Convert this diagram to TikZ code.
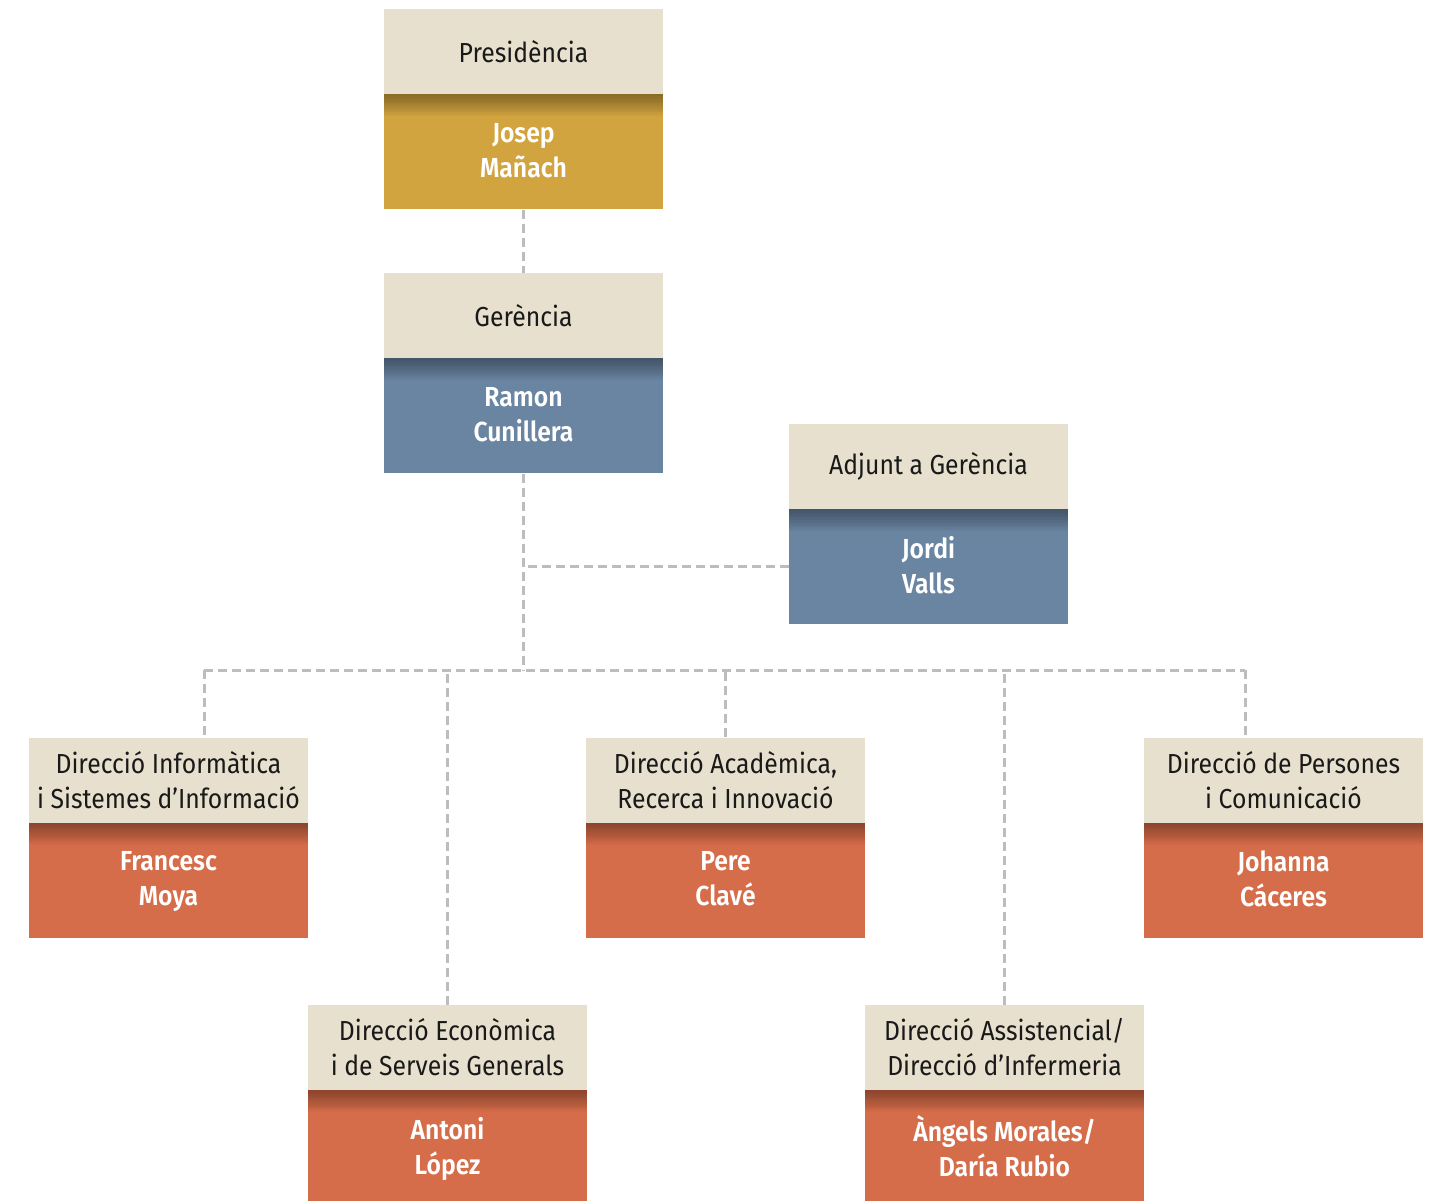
\documentclass[tikz,border=0pt]{standalone}
\usepackage{fontspec}
\setmainfont{Fira Sans}[FakeStretch=0.9, BoldFont={Fira Sans SemiBold}, BoldFeatures={FakeStretch=0.9}]
\usetikzlibrary{positioning,calc}

\definecolor{roleBG}{HTML}{E8E0CE}
\definecolor{presGold}{HTML}{D1A43F}
\definecolor{gerBlue}{HTML}{6A85A2}
\definecolor{dirOrange}{HTML}{D66D4A}
\definecolor{linkGray}{HTML}{BDBDBD}

\begin{document}
\begin{tikzpicture}[
  x=1pt, y=-1pt,
  font=\fontsize{27.5}{35}\selectfont,
  role/.style={fill=roleBG, text=black!90, minimum width=279pt, minimum height=85pt, inner sep=0pt, align=center},
  person/.style={fill=#1, text=white, minimum width=279pt, minimum height=115pt, inner sep=0pt, align=center,
    font=\fontsize{27.5}{35}\selectfont\bfseries,
    execute at begin node=\strut, execute at end node=\strut, text depth=3pt,
    path picture={\foreach \k in {1,...,12}
      \fill[black, opacity=0.03] (path picture bounding box.north west) rectangle ([yshift=-1.8*\k pt]path picture bounding box.north east);}},
  link/.style={draw=linkGray, line width=3pt, dash pattern=on 9pt off 5pt}
]
\useasboundingbox (0,0) rectangle (1430,1200);
% top of the chart
\node[role] (pres) at (523.5,51.5) {Presidència};
\node[person=presGold, below=0pt of pres] (presName) {Josep\\Mañach};
\node[role] (ger) at (523.5,315.5) {Gerència};
\node[person=gerBlue, below=0pt of ger] (gerName) {Ramon\\Cunillera};
\node[role] (adj) at (928.5,466.5) {Adjunt a Gerència};
\node[person=gerBlue, below=0pt of adj] (adjName) {Jordi\\Valls};
% first row of directions
\node[role] (inf) at (168.5,780) {Direcció Informàtica\\i Sistemes d’Informació};
\node[person=dirOrange, below=0pt of inf] (infName) {Francesc\\Moya};
\node[role] (aca) at (725.5,780) {Direcció Acadèmica,\\Recerca i Innovació};
\node[person=dirOrange, below=0pt of aca] (acaName) {Pere\\Clavé};
\node[role] (pers) at (1283.5,780) {Direcció de Persones\\i Comunicació};
\node[person=dirOrange, below=0pt of pers] (persName) {Johanna\\Cáceres};
% second row of directions
\node[role] (eco) at (447.5,1047.5) {Direcció Econòmica\\i de Serveis Generals};
\node[person=dirOrange, below=0pt of eco] (ecoName) {Antoni\\López};
\node[role] (asi) at (1004.5,1047.5) {Direcció Assistencial/\\Direcció d’Infermeria};
\node[person=dirOrange, below=0pt of asi] (asiName) {Àngels Morales/\\Daría Rubio};
% bus coordinates
\coordinate (trunk) at (523.5,670);
\coordinate (busL) at (204,670);
\coordinate (busR) at (1245,670);
% dashed links
\draw[link] (presName) -- (ger);
\draw[link] (gerName) -- (trunk);
\draw[link] (adjName.west) -- (adjName.west -| gerName.south);
\draw[link] (busL) -- (busR);
\draw[link] (busL) -- (busL |- inf.north);
\draw[link] (busR) -- (busR |- pers.north);
\draw[link] (aca) -- (aca.north |- trunk);
\draw[link] (eco) -- (eco.north |- trunk);
\draw[link] (asi) -- (asi.north |- trunk);
\end{tikzpicture}
\end{document}
